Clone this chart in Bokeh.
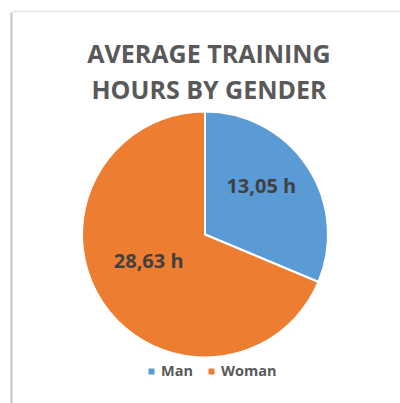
import math
from bokeh.plotting import figure
from bokeh.models import Range1d, Legend, LegendItem, ColumnDataSource
from bokeh.core.properties import value
from bokeh.embed import file_html
from bokeh.resources import INLINE

# ---- data ----
categories = ["Man", "Woman"]
hours = [13.05, 28.63]
labels = ["13,05 h", "28,63 h"]
colors = ["#5B9BD5", "#ED7D31"]
title_lines = ["AVERAGE TRAINING", "HOURS BY GENDER"]

# ---- layout (data units == pixels) ----
W, H = 400, 403
CX, CY, R = 204.5, 169.0, 123.0
FONT = "Open Sans"

total = sum(hours)
starts, ends, mids = [], [], []
a = math.pi / 2
for h in hours:
    span = 2 * math.pi * h / total
    starts.append(a - span)
    ends.append(a)
    mids.append(a - span / 2)
    a -= span

src = ColumnDataSource(dict(
    cat=categories, hours=hours, color=colors, start=starts, end=ends,
    lx=[CX + 0.55 * R * math.cos(m) for m in mids],
    ly=[CY + 0.55 * R * math.sin(m) for m in mids],
    label=labels,
))

p = figure(width=W, height=H, x_range=Range1d(0, W), y_range=Range1d(0, H),
           output_backend="svg", toolbar_location=None, min_border=0,
           x_axis_location=None, y_axis_location=None)
p.grid.visible = False
p.outline_line_color = None
p.background_fill_color = "white"
p.border_fill_color = "white"

# frame lines of the original chart box
p.segment(x0=[11], y0=[391], x1=[11], y1=[0], line_color="#c4c4c4", line_width=2)
p.segment(x0=[12], y0=[392], x1=[400], y1=[392], line_color="#e6e6e6", line_width=1.5)

wr = p.wedge(x=CX, y=CY, radius=R, start_angle="start", end_angle="end",
             fill_color="color", line_color="white", line_width=2, source=src)

p.text(x="lx", y="ly", text="label", source=src, text_align="center",
       text_baseline="middle", y_offset=-11.5, text_font=value(FONT),
       text_font_style="bold", text_font_size="20px", text_color="#404040")

# title
for i, t in enumerate(title_lines):
    p.text(x=[208.5], y=[350.5 - 35.5 * i], text=[t], text_align="center",
           text_baseline="middle", text_font=value(FONT),
           text_font_style="bold", text_font_size="25px", text_color="#595959")

legend = Legend(items=[LegendItem(label=c, renderers=[wr], index=i)
                       for i, c in enumerate(categories)],
                orientation="horizontal", location=(146, 23),
                padding=0, margin=0, spacing=13, label_standoff=5,
                glyph_width=10, glyph_height=10, label_height=10,
                border_line_alpha=0, background_fill_alpha=0,
                label_text_font=FONT, label_text_font_style="bold",
                label_text_font_size="14.5px", label_text_color="#595959")
p.add_layout(legend)

open("out.html", "w").write(file_html(p, INLINE))
